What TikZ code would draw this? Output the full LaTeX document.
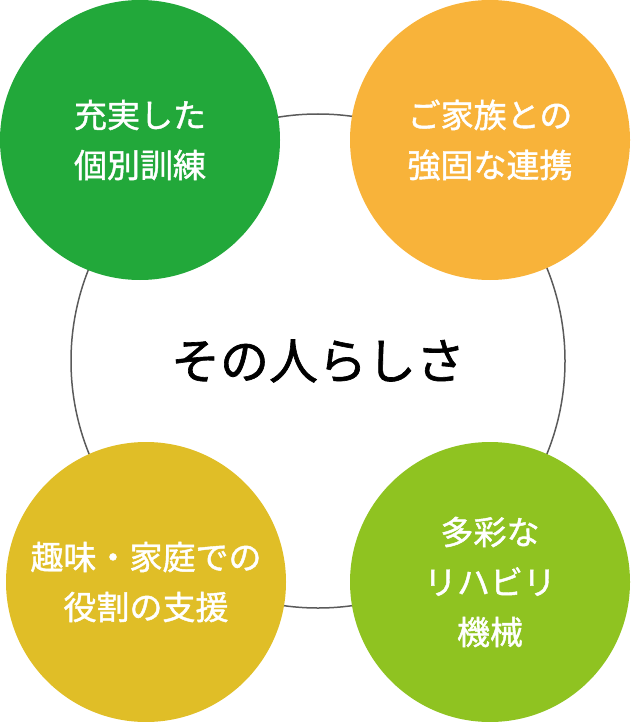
\documentclass[tikz,border=0pt]{standalone}
\usepackage{fontspec}
\newfontfamily\jpfont{Noto Sans CJK JP}
\newfontfamily\jpmedium{Noto Sans CJK JP}[FakeBold=1.3]
\usetikzlibrary{positioning}
\definecolor{deepgreen}{RGB}{34,168,58}
\definecolor{warmorange}{RGB}{248,179,58}
\definecolor{mustard}{RGB}{224,190,39}
\definecolor{leafgreen}{RGB}{143,195,33}
\definecolor{ringgray}{RGB}{90,90,90}

\begin{document}
\begin{tikzpicture}[x=1pt, y=-1pt, every node/.style={font=\jpfont}]
  \tikzset{topic/.style={circle, minimum size=280pt, inner sep=0pt, text=white, align=center,
      font=\jpmedium\fontsize{33}{50}\selectfont}}
  \useasboundingbox (0,0) rectangle (630,722);
  % ring behind the four topics
  \node[circle, draw=ringgray, line width=1.5pt, minimum size=494pt, inner sep=0pt] (ring) at (318,361) {};
  \node[font=\jpmedium\fontsize{49}{50}\selectfont] (self) at (ring.center) {その人らしさ};
  % four topics
  \node[topic, fill=deepgreen] (training) at (140,140) {充実した\\個別訓練};
  \node[topic, fill=warmorange] (family) at (490,140) {ご家族との\\強固な連携};
  \node[topic, fill=mustard] (hobby) at (146,582) {趣味・家庭での\\役割の支援};
  \node[topic, fill=leafgreen] (machine) at (490,582) {多彩な\\リハビリ\\機械};
\end{tikzpicture}
\end{document}
